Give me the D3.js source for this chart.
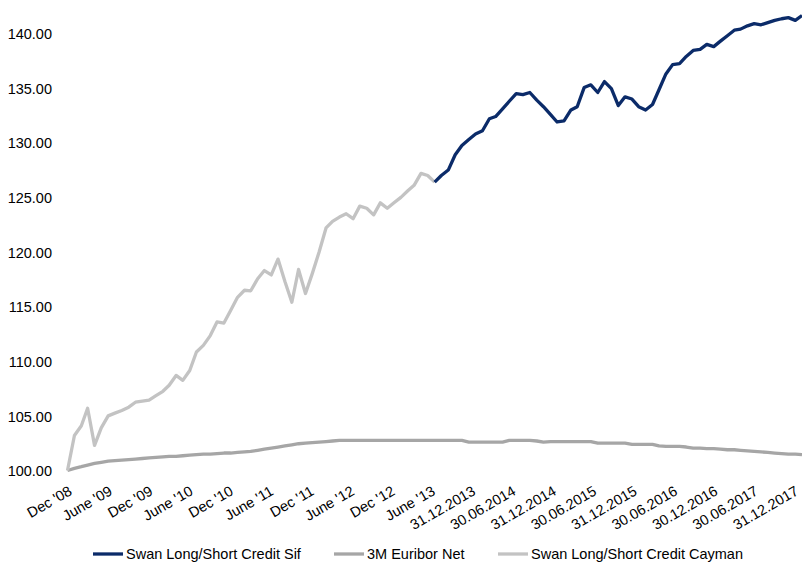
<!DOCTYPE html>
<html>
<head>
<meta charset="utf-8">
<script src="https://cdn.jsdelivr.net/npm/d3@7/dist/d3.min.js"></script>
<style>
  html, body { margin: 0; padding: 0; background: #fff; }
  svg { display: block; }
  text { font-family: "Liberation Sans", Arial, sans-serif; fill: #000; }
</style>
</head>
<body>
<svg id="chart" width="802" height="563"></svg>
<script>
// ---- data (monthly, Dec 2008 .. Dec 2017) ----
const startMonth = "2008-12";
const endMonth = "2017-12";

// Swan Long/Short Credit Cayman: Dec 2008 .. Jun 2013
const cayman = [
  100.0, 103.2, 104.1, 105.7, 102.3, 103.9, 105.0, 105.25, 105.5, 105.8,
  106.25, 106.35, 106.45, 106.85, 107.25, 107.8, 108.7, 108.25, 109.15, 110.85,
  111.45, 112.35, 113.6, 113.5, 114.65, 115.85, 116.5, 116.45, 117.55, 118.3,
  117.9, 119.35, 117.3, 115.4, 118.4, 116.2, 118.0, 120.0, 122.2, 122.8,
  123.2, 123.5, 123.05, 124.2, 124.0, 123.4, 124.5, 124.0, 124.5, 125.0,
  125.6, 126.1, 127.2, 127.0, 126.4
];

// Swan Long/Short Credit Sif: Jun 2013 .. Dec 2017
const sifStartIndex = 54;
const sif = [
  126.4, 127.0, 127.5, 128.9, 129.75, 130.3, 130.8, 131.1, 132.2, 132.4,
  133.1, 133.8, 134.5, 134.4, 134.6, 133.9, 133.3, 132.6, 131.9, 132.0,
  133.0, 133.3, 135.05, 135.3, 134.6, 135.6, 134.95, 133.4, 134.2, 134.0,
  133.3, 133.0, 133.5, 134.85, 136.3, 137.15, 137.25, 137.9, 138.45, 138.55,
  139.0, 138.8, 139.3, 139.8, 140.3, 140.4, 140.7, 140.9, 140.8, 141.0,
  141.2, 141.35, 141.45, 141.2, 141.65
];

// 3M Euribor Net: Dec 2008 .. Dec 2017
const euribor = [
  100.0, 100.2, 100.35, 100.5, 100.65, 100.75, 100.85, 100.9, 100.95, 101.0,
  101.05, 101.1, 101.15, 101.2, 101.25, 101.3, 101.3, 101.35, 101.4, 101.45,
  101.5, 101.5, 101.55, 101.6, 101.6, 101.65, 101.7, 101.75, 101.85, 101.95,
  102.05, 102.15, 102.25, 102.35, 102.45, 102.5, 102.55, 102.6, 102.65, 102.7,
  102.75, 102.75, 102.75, 102.75, 102.75, 102.75, 102.75, 102.75, 102.75, 102.75,
  102.75, 102.75, 102.75, 102.75, 102.75, 102.75, 102.75, 102.75, 102.75, 102.6,
  102.6, 102.6, 102.6, 102.6, 102.6, 102.75, 102.75, 102.75, 102.75, 102.7,
  102.6, 102.65, 102.65, 102.65, 102.65, 102.65, 102.65, 102.65, 102.5, 102.5,
  102.5, 102.5, 102.5, 102.4, 102.4, 102.4, 102.4, 102.25, 102.2, 102.2,
  102.2, 102.15, 102.05, 102.05, 102.0, 102.0, 101.95, 101.9, 101.9, 101.85,
  101.8, 101.75, 101.7, 101.65, 101.6, 101.55, 101.5, 101.5, 101.45
];

const xTickLabels = [
  "Dec '08", "June '09", "Dec '09", "June '10", "Dec '10", "June '11",
  "Dec '11", "June '12", "Dec '12", "June '13", "31.12.2013", "30.06.2014",
  "31.12.2014", "30.06.2015", "31.12.2015", "30.06.2016", "30.12.2016",
  "30.06.2017", "31.12.2017"
];
const yTicks = [100, 105, 110, 115, 120, 125, 130, 135, 140];

const seriesNames = ["Swan Long/Short Credit Sif", "3M Euribor Net", "Swan Long/Short Credit Cayman"];
const seriesColors = ["#0b2b69", "#a6a6a6", "#c3c3c3"];

// ---- build ----
const parseM = d3.utcParse("%Y-%m");
const months = d3.utcMonth.range(parseM(startMonth), d3.utcMonth.offset(parseM(endMonth), 1));

const svg = d3.select("#chart");

const x = d3.scaleUtc()
  .domain([months[0], months[months.length - 1]])
  .range([67.5, 802]);
// label anchor positions (category axis labels sit slightly differently)
const xLab = d3.scaleUtc()
  .domain([months[0], months[months.length - 1]])
  .range([72.5, 799]);
const y = d3.scaleLinear().domain([100, 140]).range([470.5, 33.5]);

const line = d3.line()
  .x(d => x(d.date))
  .y(d => y(d.value));

const toPts = (arr, offset) => arr.map((v, i) => ({ date: months[i + offset], value: v }));

const seriesData = [
  { name: seriesNames[1], color: seriesColors[1], pts: toPts(euribor, 0) },
  { name: seriesNames[2], color: seriesColors[2], pts: toPts(cayman, 0) },
  { name: seriesNames[0], color: seriesColors[0], pts: toPts(sif, sifStartIndex) }
];

svg.append("g").selectAll("path")
  .data(seriesData)
  .join("path")
  .attr("d", d => line(d.pts))
  .attr("fill", "none")
  .attr("stroke", d => d.color)
  .attr("stroke-width", 3.3)
  .attr("stroke-linejoin", "round")
  .attr("stroke-linecap", "butt");

// y axis (labels only)
const yAxis = d3.axisLeft(y)
  .tickValues(yTicks)
  .tickFormat(d3.format(".2f"))
  .tickSize(0)
  .tickPadding(0);
const gy = svg.append("g").attr("transform", "translate(52,0)").call(yAxis);
gy.select(".domain").remove();
gy.selectAll("text")
  .attr("font-family", "'Liberation Sans', Arial, sans-serif")
  .attr("font-size", "14.5px")
  .attr("fill", "#000")
  .attr("dy", "0.36em");

// x axis (rotated labels only)
const tickDates = xTickLabels.map((_, i) => months[i * 6]);
const xAxis = d3.axisBottom(xLab)
  .tickValues(tickDates)
  .tickFormat((d, i) => xTickLabels[i])
  .tickSize(0)
  .tickPadding(0);
const gx = svg.append("g").attr("transform", "translate(0,494)").call(xAxis);
gx.select(".domain").remove();
gx.selectAll("text")
  .attr("font-family", "'Liberation Sans', Arial, sans-serif")
  .attr("font-size", "14.5px")
  .attr("fill", "#000")
  .attr("y", 0)
  .attr("dy", 0)
  .attr("text-anchor", "end")
  .attr("transform", "rotate(-30)");

// legend
const legendX = [93, 334, 498];
const legendY = 554;
const lg = svg.append("g").selectAll("g")
  .data(seriesNames)
  .join("g")
  .attr("transform", (d, i) => `translate(${legendX[i]},${legendY})`);
lg.append("line")
  .attr("x1", 0).attr("x2", 30)
  .attr("y1", 0).attr("y2", 0)
  .attr("stroke", (d, i) => seriesColors[i])
  .attr("stroke-width", 3.3);
lg.append("text")
  .attr("x", 33)
  .attr("y", 0)
  .attr("dy", "0.36em")
  .attr("font-size", "14.5px")
  .text(d => d);
</script>
</body>
</html>
